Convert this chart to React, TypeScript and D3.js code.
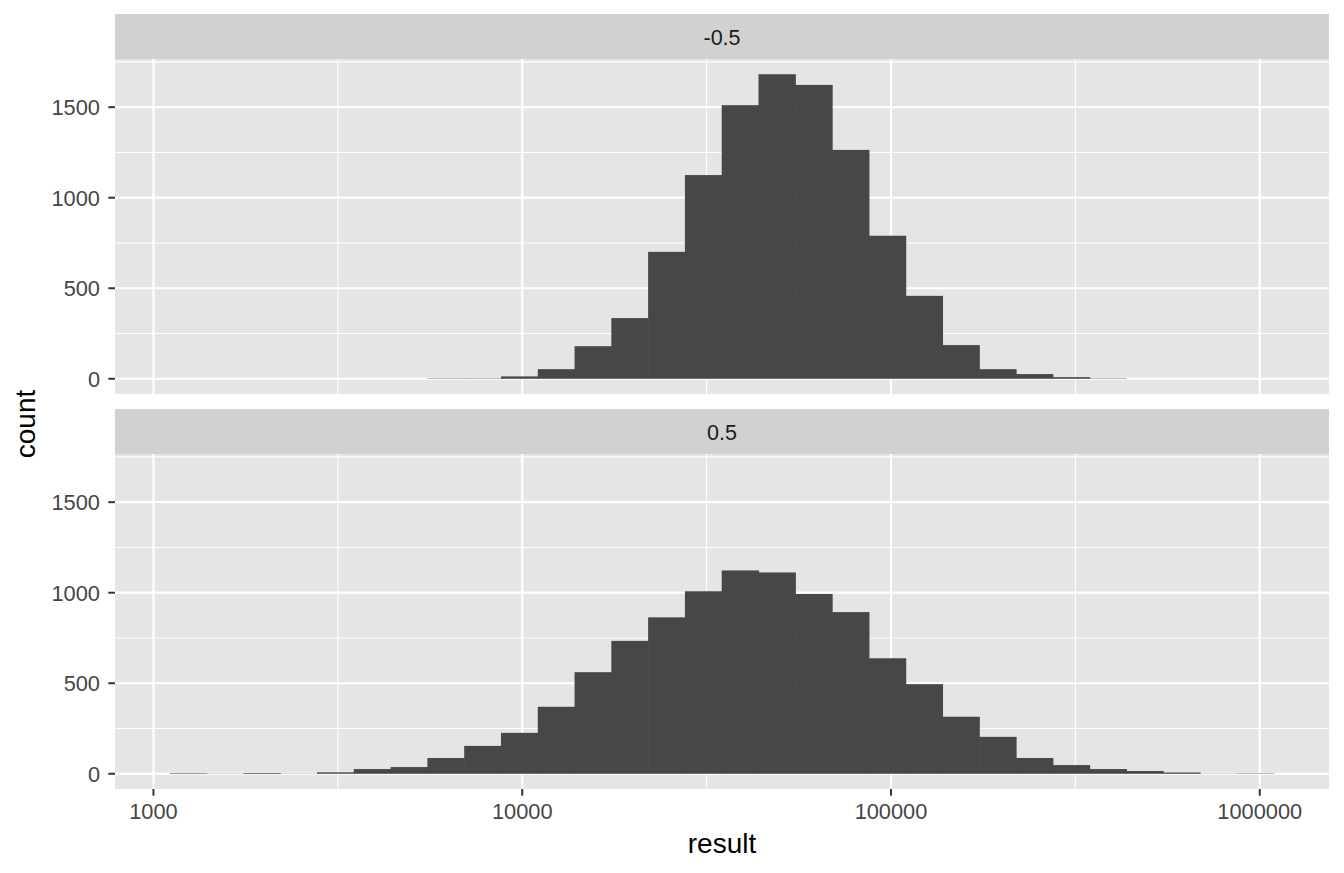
import React from "react";
import * as d3 from "d3";

// Histogram bins (log10 of result), 30 bins shared by both facets
const binStartLog = 3.0453;
const binWidthLog = 0.09976;
const facets = ["-0.5", "0.5"];
const countsNeg = [0, 0, 0, 0, 0, 0, 0, 2, 2, 13, 53, 180, 335, 701, 1125, 1511, 1682, 1623, 1264, 790, 458, 186, 53, 26, 9, 2, 0, 0, 0, 0];
const countsPos = [3, 1, 4, 1, 8, 26, 37, 87, 154, 226, 370, 561, 734, 864, 1008, 1123, 1112, 993, 893, 638, 495, 315, 204, 87, 48, 26, 15, 7, 1, 2];
const xTicks = [1000, 10000, 100000, 1000000];
const xMinor = [Math.pow(10, 3.5), Math.pow(10, 4.5), Math.pow(10, 5.5)];
const yTicks = [0, 500, 1000, 1500];
const yMinor = [250, 750, 1250, 1750];

const W = 1344, H = 873;
const left = 115, right = 1329;
const stripH = 45;
const panels = [
  { label: facets[0], counts: countsNeg, stripTop: 14, top: 59, bottom: 394 },
  { label: facets[1], counts: countsPos, stripTop: 409, top: 454, bottom: 789 },
];

const FONT = "'Liberation Sans', Arial, Helvetica, sans-serif";
const BAR = "#474747";
const PANEL = "#E5E5E5";
const STRIP = "#D1D1D1";

export default function App() {
  const nBins = countsNeg.length;
  const lo = binStartLog;
  const hi = binStartLog + nBins * binWidthLog;
  const pad = (hi - lo) * 0.05;
  const x = d3.scaleLog().domain([Math.pow(10, lo - pad), Math.pow(10, hi + pad)]).range([left, right]);
  const allMax = d3.max([...countsNeg, ...countsPos]) as number;
  const yPad = allMax * 0.05;

  return (
    <svg width={W} height={H} style={{ position: "absolute", left: 0, top: 0, background: "#fff" }} fontFamily={FONT}>
      {panels.map((p, pi) => {
        const y = d3.scaleLinear().domain([-yPad, allMax + yPad]).range([p.bottom, p.top]);
        return (
          <g key={pi}>
            {/* strip */}
            <rect x={left} y={p.stripTop} width={right - left} height={stripH} fill={STRIP} />
            <text x={(left + right) / 2} y={p.stripTop + 30.5} textAnchor="middle" fontSize={21.5} fill="#1A1A1A">{p.label}</text>
            {/* panel */}
            <rect x={left} y={p.top} width={right - left} height={p.bottom - p.top} fill={PANEL} />
            {yMinor.map((v) => (
              <line key={"ym" + v} x1={left} x2={right} y1={y(v)} y2={y(v)} stroke="#fff" strokeWidth={1.1} />
            ))}
            {xMinor.map((v) => (
              <line key={"xm" + v} x1={x(v)} x2={x(v)} y1={p.top} y2={p.bottom} stroke="#fff" strokeWidth={1.1} />
            ))}
            {yTicks.map((v) => (
              <line key={"yM" + v} x1={left} x2={right} y1={y(v)} y2={y(v)} stroke="#fff" strokeWidth={2.2} />
            ))}
            {xTicks.map((v) => (
              <line key={"xM" + v} x1={x(v)} x2={x(v)} y1={p.top} y2={p.bottom} stroke="#fff" strokeWidth={2.2} />
            ))}
            {/* bars */}
            {p.counts.map((c, i) => {
              if (c <= 0) return null;
              const x0 = x(Math.pow(10, binStartLog + i * binWidthLog));
              const x1 = x(Math.pow(10, binStartLog + (i + 1) * binWidthLog));
              return (
                <rect key={"b" + i} x={x0 - 0.3} y={y(c)} width={x1 - x0 + 0.6} height={y(0) - y(c)} fill={BAR} />
              );
            })}
            {/* y axis */}
            {yTicks.map((v) => (
              <g key={"yt" + v}>
                <line x1={left - 6.7} x2={left} y1={y(v)} y2={y(v)} stroke="#333" strokeWidth={2} />
                <text x={100} y={y(v) + 7.8} textAnchor="end" fontSize={21.8} fill="#454545">{v}</text>
              </g>
            ))}
          </g>
        );
      })}
      {/* x axis at bottom */}
      {xTicks.map((v) => (
        <g key={"xt" + v}>
          <line x1={x(v)} x2={x(v)} y1={789} y2={795.7} stroke="#333" strokeWidth={2} />
          <text x={x(v)} y={819.3} textAnchor="middle" fontSize={21.8} fill="#454545">{v}</text>
        </g>
      ))}
      <text x={(left + right) / 2} y={852.5} textAnchor="middle" fontSize={28} fill="#000">result</text>
      <text transform={`translate(35,${(59 + 789) / 2}) rotate(-90)`} textAnchor="middle" fontSize={28} fill="#000">count</text>
    </svg>
  );
}
